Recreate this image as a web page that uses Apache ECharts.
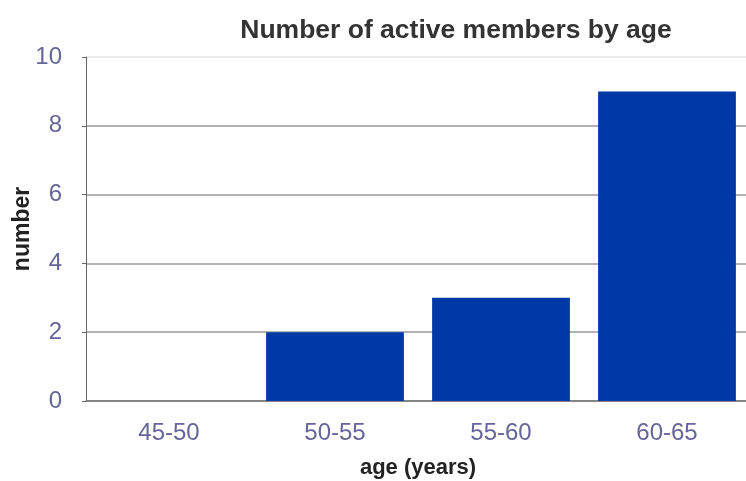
<!DOCTYPE html>
<html><head><meta charset="utf-8">
<script src="https://cdn.jsdelivr.net/npm/echarts@6/dist/echarts.min.js"></script>
<style>html,body{margin:0;padding:0;background:#fff}#c{width:746px;height:481px}</style>
</head><body><div id="c"></div>
<script>
var categories = ['45-50', '50-55', '55-60', '60-65'];
var values = [0, 2, 3, 9];
var yTicks = [0, 2, 4, 6, 8, 10];

var chart = echarts.init(document.getElementById('c'), null, {renderer: 'canvas'});
chart.setOption({
  animation: false,
  backgroundColor: '#ffffff',
  title: {
    text: 'Number of active members by age',
    left: 451, top: 12, textAlign: 'center',
    textStyle: {fontFamily: 'Liberation Sans', fontSize: 26.5, fontWeight: 'bold', color: '#333333'}
  },
  grid: {left: 86, right: -4, top: 57, bottom: 80, outerBoundsMode: 'none', containLabel: false},
  xAxis: {
    type: 'category', data: categories,
    name: 'age (years)', nameLocation: 'middle', nameGap: 56, nameMoveOverlap: false,
    nameTextStyle: {fontFamily: 'Liberation Sans', fontSize: 22, fontWeight: 'bold', color: '#222222'},
    axisLine: {lineStyle: {color: '#777777', width: 1.5}},
    axisTick: {show: false},
    axisLabel: {fontFamily: 'Liberation Sans', fontSize: 24, color: '#65659a', margin: 20}
  },
  yAxis: {
    type: 'value', min: 0, max: 10, interval: 2,
    name: 'number', nameLocation: 'middle', nameGap: 52, nameRotate: 90, nameMoveOverlap: false,
    nameTextStyle: {fontFamily: 'Liberation Sans', fontSize: 23, fontWeight: 'bold', color: '#222222'},
    axisLine: {show: true, lineStyle: {color: '#666666', width: 1}},
    axisTick: {show: true, length: 4, lineStyle: {color: '#666666'}},
    axisLabel: {fontFamily: 'Liberation Sans', fontSize: 24, color: '#65659a', margin: 24,
      formatter: function (v) { return yTicks.indexOf(v) >= 0 ? String(v) : ''; }},
    splitLine: {show: true, lineStyle: {color: ['#999999', '#999999', '#999999', '#999999', '#999999', '#e6e6e6'], width: 1.5}}
  },
  series: [{
    type: 'bar', data: values, barWidth: '83%',
    itemStyle: {color: '#0039a6'}
  }]
});
</script></body></html>
